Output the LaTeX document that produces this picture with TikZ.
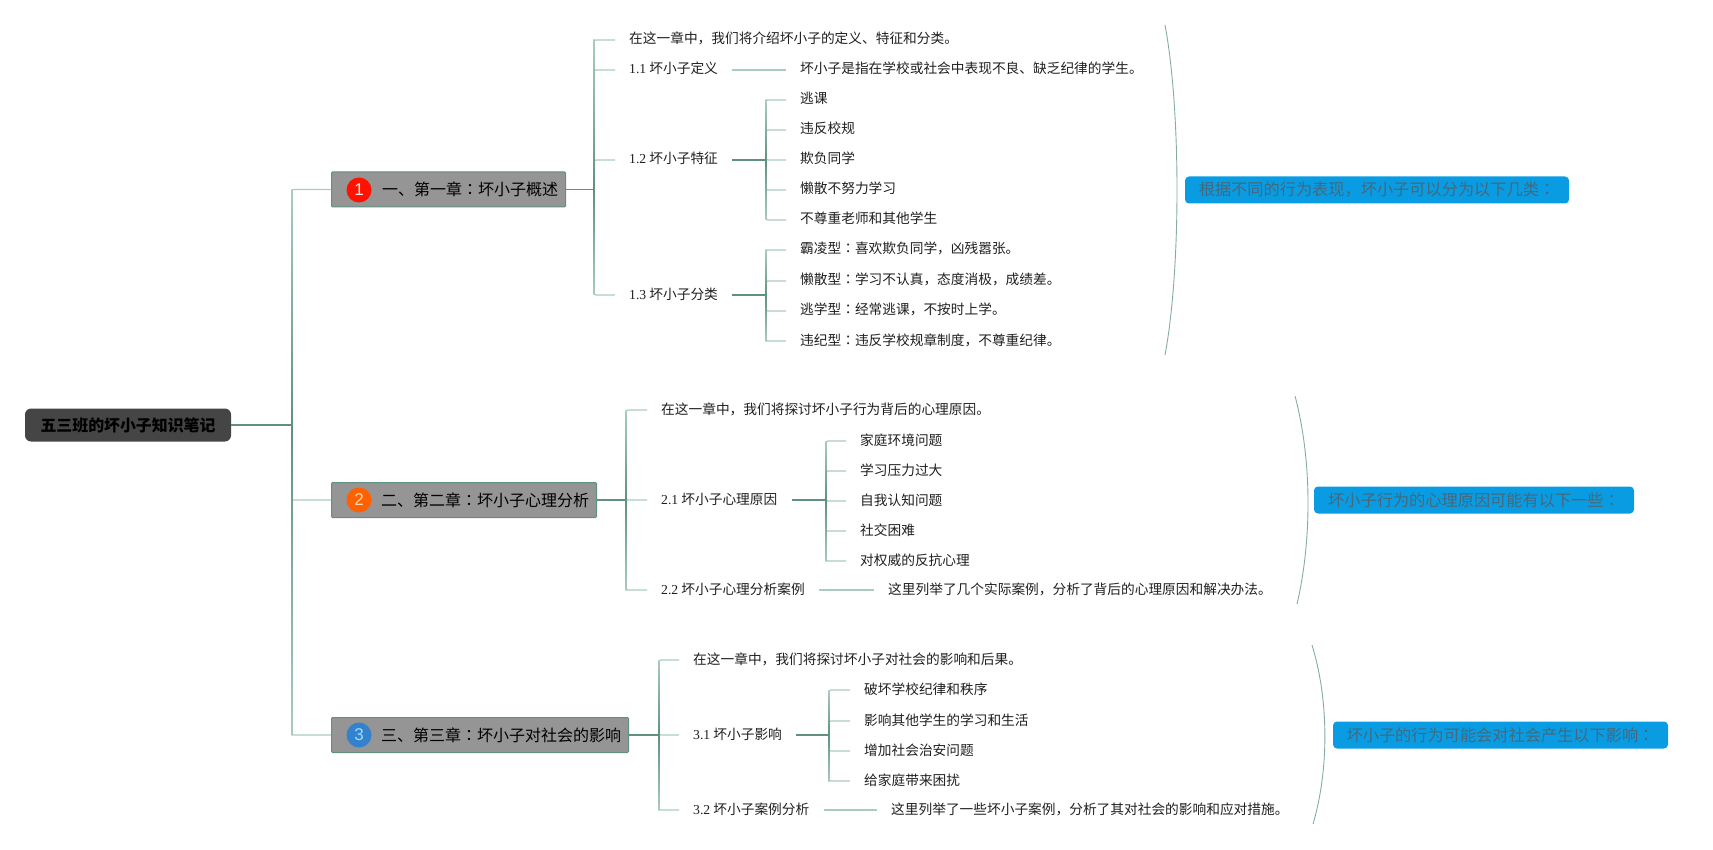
\documentclass[tikz,border=0pt]{standalone}
\usepackage{fontspec}
\setmainfont{Liberation Serif}
\newfontfamily\cjk{Noto Sans CJK SC}
\newfontfamily\cjkcol{Noto Sans CJK JP}
\newfontfamily\numfont{Liberation Sans}
\usetikzlibrary{calc}
\definecolor{linkLight}{HTML}{A9CBC0}
\definecolor{linkDark}{HTML}{5E9183}
\definecolor{rootFill}{HTML}{454545}
\definecolor{chapFill}{HTML}{959595}
\definecolor{noteFill}{HTML}{0A9CE2}
\definecolor{noteText}{HTML}{45687C}
\newcommand{\zc}{{\cjkcol ：}}
\newcommand{\num}[1]{{\rmfamily #1}}
\tikzset{
	link/.style={draw=linkLight, line width=1.2pt, rounded corners=2pt},
	stub/.style={draw=linkDark, line width=1.4pt},
	rootbox/.style={fill=rootFill, rounded corners=6pt, minimum width=206pt, minimum height=33pt, inner sep=0pt, font=\cjk\bfseries\fontsize{15.9}{18}\selectfont, text=black},
	chapter/.style={draw=linkDark, fill=chapFill, line width=1pt, rounded corners=1pt, anchor=west, minimum height=35pt, inner sep=0pt, align=right, font=\cjk\fontsize{16}{18}\selectfont, text=black},
	badge/.style={circle, minimum size=25pt, inner sep=0pt, font=\numfont\fontsize{17}{18}\selectfont},
	item/.style={anchor=west, inner xsep=14pt, inner ysep=0pt, text height=11pt, text depth=3pt, font=\cjk\fontsize{13.7}{16}\selectfont, text=black!88},
	note/.style={fill=noteFill, rounded corners=4pt, minimum height=27pt, inner sep=0pt, font=\cjk\fontsize{16.2}{18}\selectfont, text=noteText},
	arc/.style={draw=linkDark!75, line width=.9pt}
}
\begin{document}
\begin{tikzpicture}[x=1pt, y=-1pt]
	\useasboundingbox (0,0) rectangle (1713,850);
	
	% Root and chapters
	\node[rootbox] (root) at (128,425) {五三班的坏小子知识笔记};
	\node[chapter, minimum width=234pt, text width=219pt] (ch1) at (331,189.5) {一、第一章\zc 坏小子概述\hspace{15pt}};
	\node[chapter, minimum width=265pt, text width=250pt] (ch2) at (331,500) {二、第二章\zc 坏小子心理分析\hspace{15pt}};
	\node[chapter, minimum width=297pt, text width=282pt] (ch3) at (331,735) {三、第三章\zc 坏小子对社会的影响\hspace{15pt}};
	\node[badge, fill=red!85!orange, text=white!90!red] (badge1) at (359,190) {1};
	\node[badge, fill=orange!75!red, text=white!70!orange] (badge2) at (359,500) {2};
	\node[badge, fill=cyan!55!blue!85, text=white!60!cyan] (badge3) at (359,735) {3};
	
	% Chapter 1
	\node[item] (a0) at (615,40) {在这一章中，我们将介绍坏小子的定义、特征和分类。};
	\node[item] (a1) at (615,70) {\num{1.1} 坏小子定义};
	\node[item] (a2) at (615,160) {\num{1.2} 坏小子特征};
	\node[item] (a3) at (615,295) {\num{1.3} 坏小子分类};
	\node[item] (a11) at (786,70) {坏小子是指在学校或社会中表现不良、缺乏纪律的学生。};
	\node[item] (a21) at (786,100) {逃课};
	\node[item] (a22) at (786,130) {违反校规};
	\node[item] (a23) at (786,160) {欺负同学};
	\node[item] (a24) at (786,190) {懒散不努力学习};
	\node[item] (a25) at (786,220) {不尊重老师和其他学生};
	\node[item] (a31) at (786,250) {霸凌型\zc 喜欢欺负同学，凶残嚣张。};
	\node[item] (a32) at (786,281) {懒散型\zc 学习不认真，态度消极，成绩差。};
	\node[item] (a33) at (786,311) {逃学型\zc 经常逃课，不按时上学。};
	\node[item] (a34) at (786,341) {违纪型\zc 违反学校规章制度，不尊重纪律。};
	
	% Chapter 2
	\node[item] (b0) at (647,410) {在这一章中，我们将探讨坏小子行为背后的心理原因。};
	\node[item] (b1) at (647,500) {\num{2.1} 坏小子心理原因};
	\node[item] (b2) at (647,590) {\num{2.2} 坏小子心理分析案例};
	\node[item] (b11) at (846,441) {家庭环境问题};
	\node[item] (b12) at (846,471) {学习压力过大};
	\node[item] (b13) at (846,501) {自我认知问题};
	\node[item] (b14) at (846,531) {社交困难};
	\node[item] (b15) at (846,561) {对权威的反抗心理};
	\node[item] (b21) at (874,590) {这里列举了几个实际案例，分析了背后的心理原因和解决办法。};
	
	% Chapter 3
	\node[item] (c0) at (679,660) {在这一章中，我们将探讨坏小子对社会的影响和后果。};
	\node[item] (c1) at (679,735) {\num{3.1} 坏小子影响};
	\node[item] (c2) at (679,810) {\num{3.2} 坏小子案例分析};
	\node[item] (c11) at (850,690) {破坏学校纪律和秩序};
	\node[item] (c12) at (850,721) {影响其他学生的学习和生活};
	\node[item] (c13) at (850,751) {增加社会治安问题};
	\node[item] (c14) at (850,781) {给家庭带来困扰};
	\node[item] (c21) at (877,810) {这里列举了一些坏小子案例，分析了其对社会的影响和应对措施。};
	
	% Summaries
	\node[note, minimum width=384pt] (note1) at (1377,190) {根据不同的行为表现，坏小子可以分为以下几类\zc};
	\node[note, minimum width=320pt] (note2) at (1474,500) {坏小子行为的心理原因可能有以下一些\zc};
	\node[note, minimum width=335pt] (note3) at (1500.5,735) {坏小子的行为可能会对社会产生以下影响\zc};
	
	% Junctions
	\coordinate (busR) at (292,425);
	\coordinate (busA) at (594,189.5);
	\coordinate (busA2) at (766,160);
	\coordinate (busA3) at (766,295);
	\coordinate (busB) at (626,500);
	\coordinate (busB1) at (826,500);
	\coordinate (busC) at (659,735);
	\coordinate (busC1) at (829,735);
	
	% Light branches
	\foreach \from/\to in {busR/ch1, busR/ch2, busR/ch3, busA/a0, busA/a1, busA/a2, busA/a3, busA2/a21, busA2/a22, busA2/a23, busA2/a24, busA2/a25, busA3/a31, busA3/a32, busA3/a33, busA3/a34, busB/b0, busB/b1, busB/b2, busB1/b11, busB1/b12, busB1/b13, busB1/b14, busB1/b15, busC/c0, busC/c1, busC/c2, busC1/c11, busC1/c12, busC1/c13, busC1/c14}
		\draw[link] (\from) |- (\to.west);
	\draw[link] (a1.east) -- (a11.west);
	\draw[link] (b2.east) -- (b21.west);
	\draw[link] (c2.east) -- (c21.west);
	
	% Darker parts near the parent
	\foreach \bus/\top/\bottom in {busR/ch1/ch3, busA/a0/a3, busA2/a21/a25, busA3/a31/a34, busB/b0/b2, busB1/b11/b15, busC/c0/c2, busC1/c11/c14} {
		\shade[top color=linkLight, bottom color=linkDark] ($(\bus |- \top.west)+(-.7,0)$) rectangle ($(\bus)+(.7,0)$);
		\shade[top color=linkDark, bottom color=linkLight] ($(\bus)+(-.7,0)$) rectangle ($(\bus |- \bottom.west)+(.7,0)$);
	}
	\draw[stub] (root.east) -- (busR);
	\draw[stub] (ch1.east) -- (busA);
	\draw[stub] (ch2.east) -- (busB);
	\draw[stub] (ch3.east) -- (busC);
	\draw[stub] (a2.east) -- (busA2);
	\draw[stub] (a3.east) -- (busA3);
	\draw[stub] (b1.east) -- (busB1);
	\draw[stub] (c1.east) -- (busC1);
	
	% Brackets
	\draw[arc] (1165,25) .. controls (1181,110) and (1181,270) .. (1165,355);
	\draw[arc] (1295,396) .. controls (1312,460) and (1312,540) .. (1297,604);
	\draw[arc] (1312,645) .. controls (1329,700) and (1329,770) .. (1313,824);
\end{tikzpicture}
\end{document}
